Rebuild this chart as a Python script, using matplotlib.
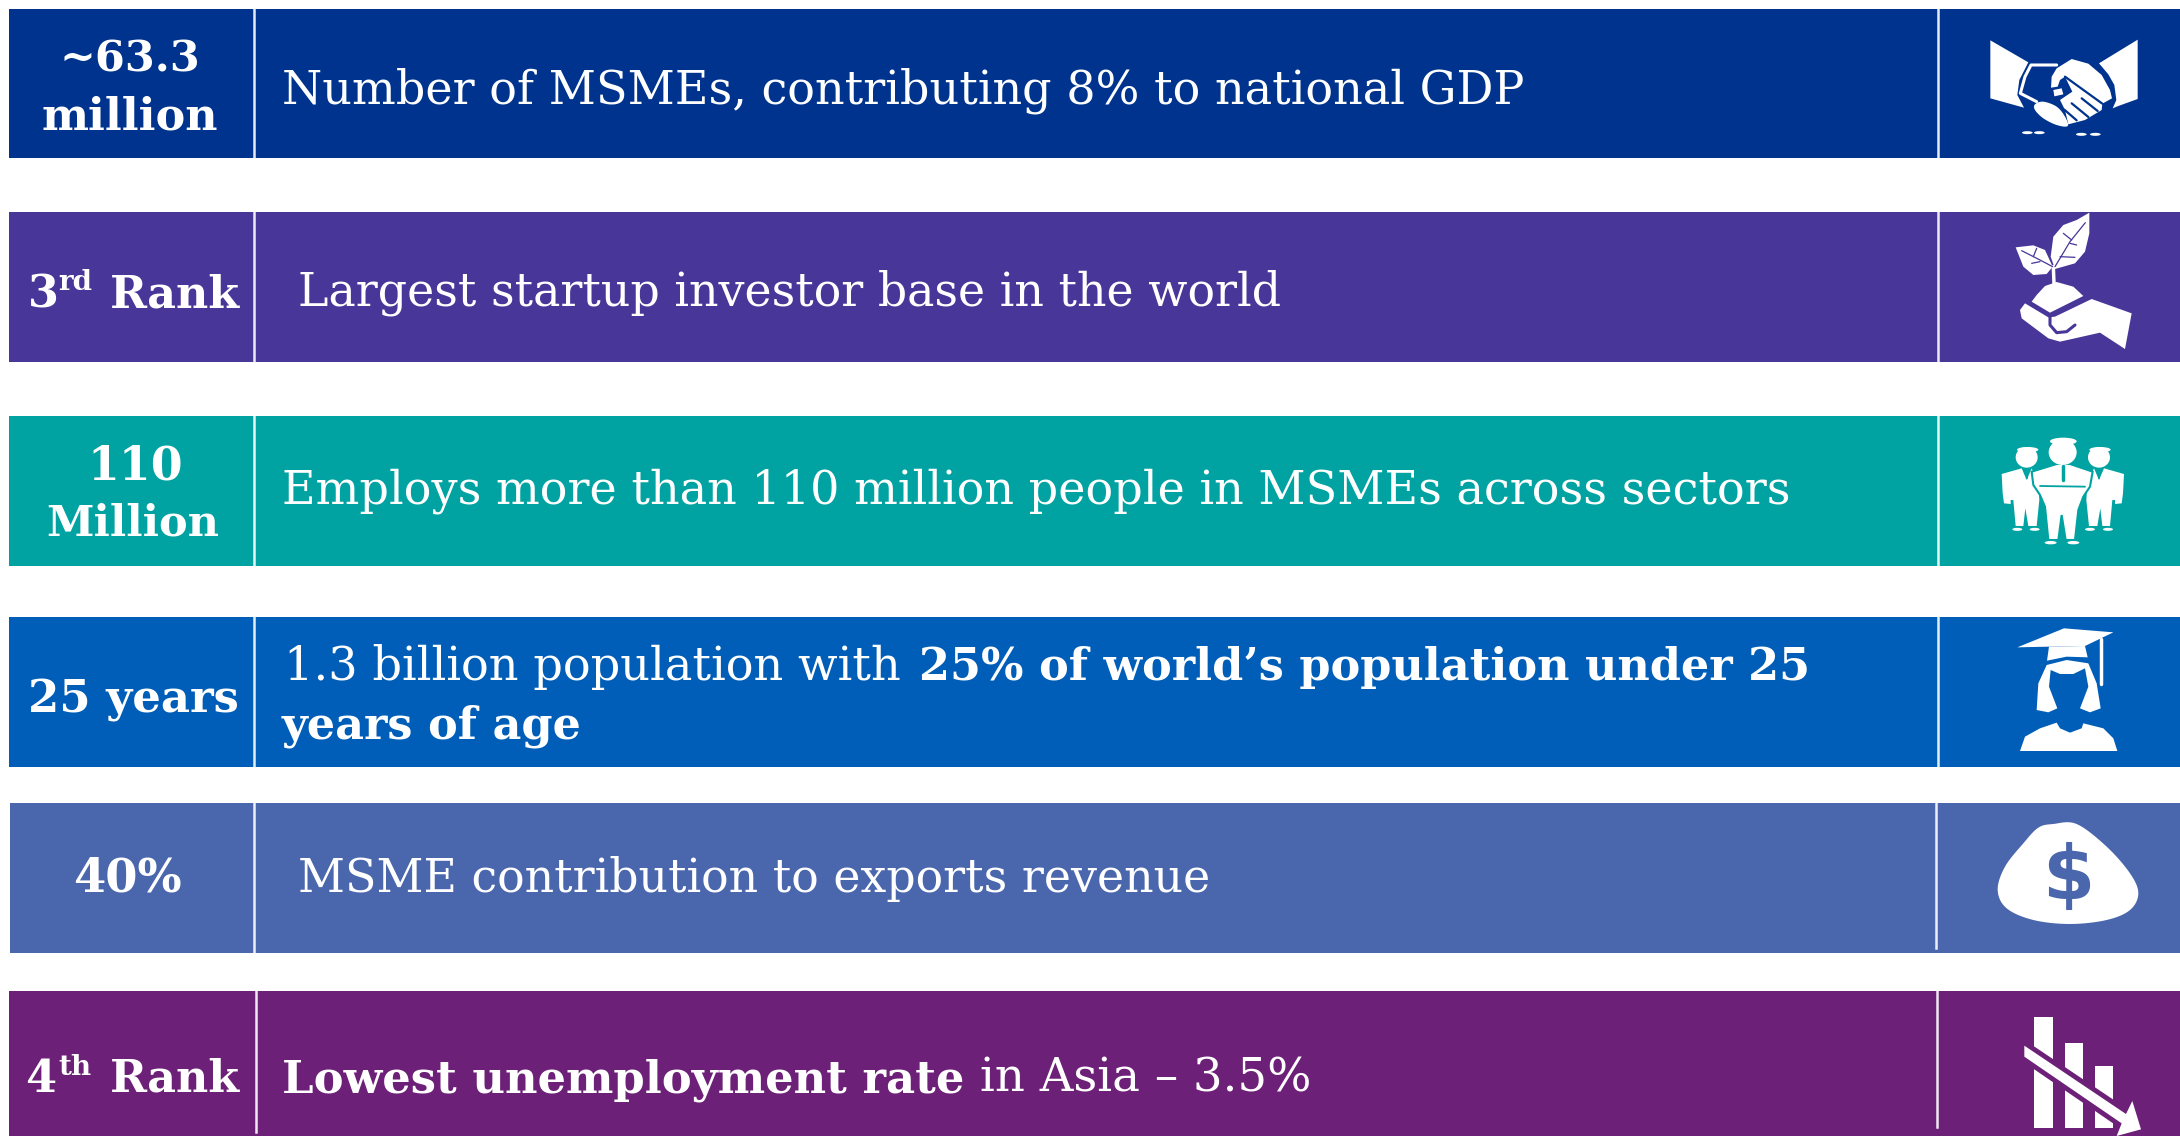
import matplotlib
matplotlib.use('Agg')
import matplotlib.pyplot as plt
from matplotlib.patches import Rectangle, Polygon, Ellipse
import numpy as np

plt.rcParams['font.family'] = ['DejaVu Serif']

# rows of the slide, top to bottom
colors = ['#00338D', '#483698', '#00A3A1', '#005EB8', '#4A66AC', '#6D2077']
lefts = [9, 9, 9, 9, 10, 9]
tops = [9, 212, 416, 617, 803, 991]
bottoms = [158, 362, 566, 767, 953, 1136]
div1_x = [254, 254, 254, 254, 254, 256]
div2_x = [1938, 1938, 1938, 1938, 1936, 1937]
div2_end = [158, 362, 566, 767, 948, 1127]

# left column: text, centre x, baseline y, size
head_text = ['~63.3', 'million', '110', 'Million', '25 years', '40%']
head_x = [130, 130, 135, 133, 133, 127]
head_y = [72, 129, 480, 536, 712, 892]
head_fs = [31, 32, 33, 31, 32.4, 33.5]

# body lines with a single weight
body_text = ['Number of MSMEs, contributing 8% to national GDP',
             'Largest startup investor base in the world',
             'Employs more than 110 million people in MSMEs across sectors',
             'MSME contribution to exports revenue']
body_x = [282, 298, 282, 298]
body_y = [103, 306, 504, 892]
body_fs = [33.2, 33, 33.2, 33]

W, H = 2180, 1136
fig = plt.figure(figsize=(W / 100, H / 100), dpi=100, facecolor='white')
ax = fig.add_axes([0, 0, 1, 1])
ax.set_xlim(0, W)
ax.set_ylim(H, 0)
ax.axis('off')


def txt(x, y, s, fs=33, w='normal', ha='left', col='white'):
    ax.text(x, y, s, color=col, fontsize=fs, fontweight=w, ha=ha, va='baseline')


def smooth(p, n=8):
    # closed catmull-rom through the outline points
    p = np.array(p, dtype=float)
    out = []
    for i in range(len(p)):
        p0, p1, p2, p3 = p[i - 1], p[i], p[(i + 1) % len(p)], p[(i + 2) % len(p)]
        for t in np.linspace(0, 1, n, endpoint=False):
            out.append(0.5 * (2 * p1 + (p2 - p0) * t + (2 * p0 - 5 * p1 + 4 * p2 - p3) * t ** 2
                              + (3 * p1 - p0 - 3 * p2 + p3) * t ** 3))
    return np.array(out)


def icon(x0, y0, p, curved=False, fc='white', ec='none', lw=0):
    # outline points are in 3x crop coordinates
    p = np.array(p, dtype=float) / 3 + [x0, y0]
    if curved:
        p = smooth(p)
    ax.add_patch(Polygon(p, closed=True, fc=fc, ec=ec, lw=lw))


def stroke(x0, y0, p, col='white', lw=2):
    p = np.array(p, dtype=float) / 3 + [x0, y0]
    ax.plot(p[:, 0], p[:, 1], color=col, lw=lw, solid_capstyle='round')


def blob(x0, y0, cx, cy, w, h, fc='white'):
    ax.add_patch(Ellipse((x0 + cx / 3, y0 + cy / 3), w / 3, h / 3, fc=fc, ec='none'))


for i in range(6):
    ax.add_patch(Rectangle((lefts[i], tops[i]), W - lefts[i], bottoms[i] - tops[i], fc=colors[i], ec='none'))
    ax.plot([div1_x[i]] * 2, [tops[i], min(bottoms[i], 1132)], color='white', alpha=0.9, lw=1.8)
    ax.plot([div2_x[i]] * 2, [tops[i], div2_end[i]], color='white', alpha=0.9, lw=1.8)

for s, x, y, fs in zip(head_text, head_x, head_y, head_fs):
    txt(x, y, s, fs, 'bold', 'center')

# ordinals are set in pieces so the raised letters sit right
txt(28, 307, '3', 32, 'bold')
txt(58, 290, 'rd', 20, 'bold')
txt(110, 307, 'Rank', 32, 'bold')
txt(25, 1092, '4', 32, 'bold')
txt(58, 1075, 'th', 20, 'bold')
txt(110, 1092, 'Rank', 32, 'bold')

for s, x, y, fs in zip(body_text, body_x, body_y, body_fs):
    txt(x, y, s, fs)

txt(284, 680, '1.3 billion population with', 33.3)
txt(919, 680, '25% of world\u2019s population under 25', 32.1, 'bold')
txt(282, 738, 'years of age', 32, 'bold')
txt(282, 1092, 'Lowest unemployment rate', 32.3, 'bold')
txt(980, 1092, 'in Asia \u2013 3.5%', 33.6)

# handshake
ox, oy = 1985, 35
bg = colors[0]
icon(ox, oy, [(16, 16), (130, 82), (103, 135), (97, 180), (117, 218), (16, 190)])
icon(ox, oy, [(458, 14), (458, 192), (400, 213), (383, 220), (394, 195), (388, 150), (370, 118), (342, 85)])
stroke(ox, oy, [(215, 90), (138, 90), (120, 125), (106, 175), (155, 200)], lw=2.2)
icon(ox, oy, [(198, 158), (200, 125), (215, 100), (260, 72), (310, 86), (350, 120), (375, 165), (381, 190),
              (352, 206), (350, 225), (300, 255), (250, 268), (240, 225), (225, 195), (262, 170), (240, 125),
              (225, 135), (218, 155)])
icon(ox, oy, [(150, 208), (175, 200), (215, 215), (240, 245), (248, 273), (215, 270), (175, 250), (150, 225)], True)
icon(ox, oy, [(205, 165), (230, 160), (235, 178), (208, 184)])
stroke(ox, oy, [(240, 125), (352, 206)], bg, 1.6)
stroke(ox, oy, [(290, 190), (338, 228)], bg, 1.6)
stroke(ox, oy, [(260, 205), (310, 246)], bg, 1.6)
stroke(ox, oy, [(238, 224), (275, 256)], bg, 1.6)
for cx, cy in [(127, 293), (163, 293), (289, 298), (331, 298)]:
    blob(ox, oy, cx, cy, 32, 9)

# plant in hand
ox, oy = 1900, 0
bg = colors[1]
icon(ox, oy, [(568, 638), (568, 700), (555, 755), (525, 790), (465, 807), (452, 770), (460, 710), (490, 675), (530, 660)])
icon(ox, oy, [(347, 742), (400, 736), (435, 750), (458, 800), (440, 822), (400, 825), (370, 800)])
stroke(ox, oy, [(460, 800), (462, 850)], lw=2.5)
for v in [[(556, 668), (510, 725), (465, 800)], [(515, 720), (490, 700)], [(510, 730), (530, 735)], [(480, 770), (525, 772)],
          [(365, 752), (420, 780), (458, 800)], [(400, 770), (410, 745)], [(420, 785), (395, 790)]]:
    stroke(ox, oy, v, bg, 0.9)
icon(ox, oy, [(395, 905), (410, 885), (435, 858), (470, 846), (520, 860), (550, 888), (450, 938)])
icon(ox, oy, [(360, 930), (375, 910), (445, 952), (465, 950), (575, 897), (695, 940), (675, 1047), (600, 998),
              (480, 1025), (445, 1015), (365, 955)])
stroke(ox, oy, [(450, 950), (450, 975), (470, 998), (500, 995), (525, 975)], bg, 2.2)

# three people
ox, oy = 1900, 400
bg = colors[2]
side = [(305, 222), (365, 205), (380, 240), (395, 205), (415, 250), (418, 300), (410, 378), (385, 378), (376, 325),
        (370, 378), (347, 378), (340, 300), (332, 300), (332, 312), (312, 310), (308, 280)]
icon(ox, oy, side)
icon(ox, oy, [(977 - x, y) for x, y in side])
for cx in [380, 597]:
    blob(ox, oy, cx, 172, 66, 62)
    blob(ox, oy, cx + 3, 149, 64, 16)
    stroke(ox, oy, [(cx, 208), (cx, 235)], bg, 1.5)
for cx in [352, 404, 570, 624]:
    blob(ox, oy, cx, 388, 30, 9)
icon(ox, oy, [(395, 215), (470, 192), (510, 192), (578, 215), (570, 260), (550, 290), (535, 330), (525, 420), (497, 420),
              (485, 345), (475, 420), (445, 420), (435, 320), (420, 285), (400, 255)], ec=bg, lw=1.5)
blob(ox, oy, 488, 157, 84, 76)
blob(ox, oy, 490, 124, 80, 22)
stroke(ox, oy, [(488, 198), (488, 240)], bg, 2.5)
stroke(ox, oy, [(420, 258), (555, 260)], bg, 1.3)
for cx in [452, 520]:
    blob(ox, oy, cx, 428, 36, 10)

# graduate
bg = colors[3]
icon(ox, oy, [(352, 742), (492, 685), (640, 697), (555, 738), (445, 740)])
icon(ox, oy, [(447, 740), (555, 738), (563, 772), (500, 770), (441, 782)])
stroke(ox, oy, [(602, 718), (602, 853)], lw=2.5)
icon(ox, oy, [(440, 795), (415, 850), (410, 930), (445, 937), (472, 925), (447, 860), (452, 810), (480, 822), (520, 822),
              (555, 805), (565, 860), (540, 925), (570, 937), (602, 925), (590, 850), (565, 790), (500, 780)])
icon(ox, oy, [(360, 1053), (375, 1010), (420, 985), (470, 968), (480, 985), (510, 998), (545, 985), (550, 970),
              (610, 985), (640, 1015), (652, 1053)])

# money bag
ox, oy = 1900, 780
bg = colors[4]
icon(ox, oy, [(415, 143), (460, 132), (530, 132), (620, 200), (690, 280), (715, 340), (690, 390), (620, 420), (510, 432),
              (400, 420), (320, 385), (293, 330), (315, 260), (370, 190)], True)
ax.text(2068, 879, '$', color=bg, fontsize=54, fontweight='bold', ha='center', va='center',
        family='DejaVu Sans', parse_math=False)

# falling bars
bg = colors[5]
for x1, x2, y1 in [(403, 458, 712), (495, 549, 790), (585, 638, 857)]:
    ax.add_patch(Rectangle((ox + x1 / 3, oy + y1 / 3), (x2 - x1) / 3, (1045 - y1) / 3, fc='white', ec='none'))
icon(ox, oy, [(373, 797), (373, 830), (665, 1030), (650, 1068), (723, 1048), (697, 963), (678, 1002)],
     ec=bg, lw=7)
icon(ox, oy, [(373, 797), (373, 830), (665, 1030), (650, 1068), (723, 1048), (697, 963), (678, 1002)])

fig.savefig('out.png', dpi=100, facecolor='white')
